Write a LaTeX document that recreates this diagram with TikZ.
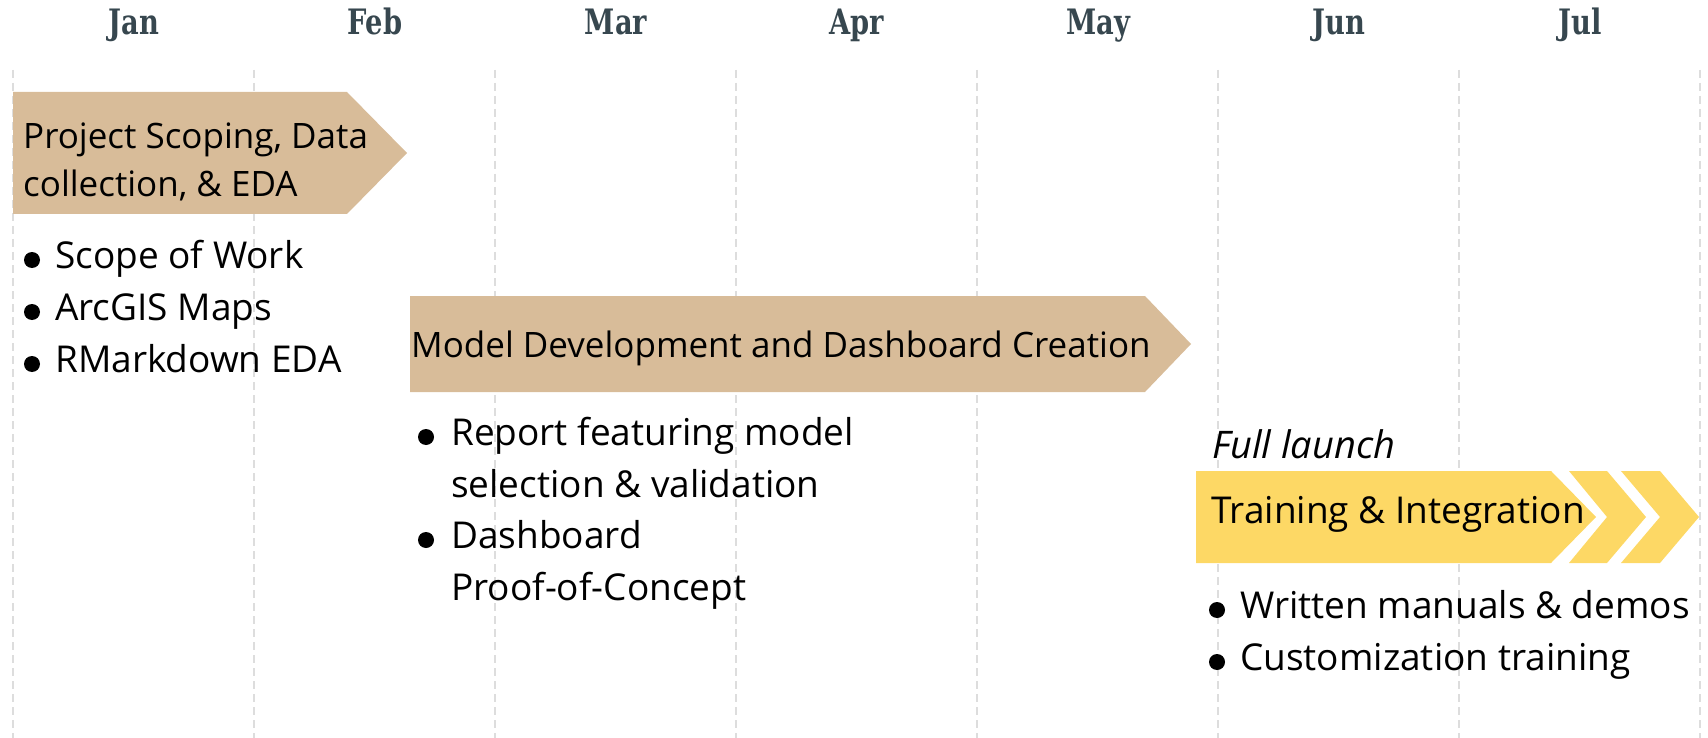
\documentclass[tikz,border=0pt]{standalone}
\usepackage{fontspec}
\setmainfont{Open Sans}
\newfontfamily\monthfont[FakeStretch=0.78]{DejaVu Serif}
\usepackage{tikz}
\definecolor{tan}{HTML}{D8BC99}
\definecolor{gold}{HTML}{FDD865}
\definecolor{slate}{HTML}{37474F}
\definecolor{gridgray}{HTML}{DDDDDD}
\tikzset{
	txt/.style={anchor=base west, inner sep=0pt, font=\fontsize{35}{40}\selectfont},
	item/.style={anchor=base west, inner sep=0pt, font=\fontsize{37}{42}\selectfont},
	month/.style={anchor=base, inner sep=0pt, text=slate, font=\monthfont\bfseries\fontsize{35}{40}\selectfont},
	dot/.style={circle, fill=black, inner sep=0pt, minimum size=16pt},
}

\begin{document}
\begin{tikzpicture}[x=1pt,y=-1pt]
	\useasboundingbox (0,0) rectangle (1708,738);
	%Griglia
	\foreach \i in {0,...,7}
	{\draw [gridgray, line width=2pt, dash pattern=on 8pt off 5pt] (13+241*\i,70) -- (13+241*\i,738);}
	%Mesi
	\foreach \m [count=\i from 0] in {Jan,Feb,Mar,Apr,May,Jun,Jul}
	{\node [month] (\m) at (134+241*\i,35) {\m};}
	%Fase 1
	\fill [tan] (13,92) -- (347,92) -- (407,153) -- (347,214) -- (13,214) -- cycle;
	\node [txt] (scopinga) at (23,149) {Project Scoping, Data};
	\node [txt] (scopingb) at (23,197) {collection, \& EDA};
	\node [dot] (dota) at (32,260) {};
	\node [item] (work) at (55,268) {Scope of Work};
	\node [dot] (dotb) at (32,312) {};
	\node [item] (maps) at (55,320) {ArcGIS Maps};
	\node [dot] (dotc) at (32,364) {};
	\node [item] (eda) at (55,372) {RMarkdown EDA};
	%Fase 2
	\fill [tan] (410,296) -- (1145,296) -- (1191,344) -- (1145,392) -- (410,392) -- cycle;
	\node [txt] (model) at (411,357) {Model Development and Dashboard Creation};
	\node [dot] (dotd) at (426,437) {};
	\node [item] (reporta) at (451,445) {Report featuring model};
	\node [item] (reportb) at (451,497) {selection \& validation};
	\node [dot] (dote) at (426,540) {};
	\node [item] (dasha) at (451,548) {Dashboard};
	\node [item] (dashb) at (451,600) {Proof-of-Concept};
	%Fase 3
	\node [item, font=\fontsize{38}{42}\selectfont\itshape] (launch) at (1212,458) {Full launch};
	\fill [gold] (1196,471) -- (1551,471) -- (1596,517) -- (1551,563) -- (1196,563) -- cycle;
	\fill [gold] (1569,471) -- (1607,471) -- (1646,517) -- (1607,563) -- (1569,563) -- (1607,517) -- cycle;
	\fill [gold] (1621,471) -- (1660,471) -- (1699,517) -- (1660,563) -- (1621,563) -- (1660,517) -- cycle;
	\node [item] (training) at (1211,523) {Training \& Integration};
	\node [dot] (dotf) at (1217,610) {};
	\node [item] (manuals) at (1240,618) {Written manuals \& demos};
	\node [dot] (dotg) at (1217,662) {};
	\node [item] (custom) at (1240,670) {Customization training};
\end{tikzpicture}
\end{document}
